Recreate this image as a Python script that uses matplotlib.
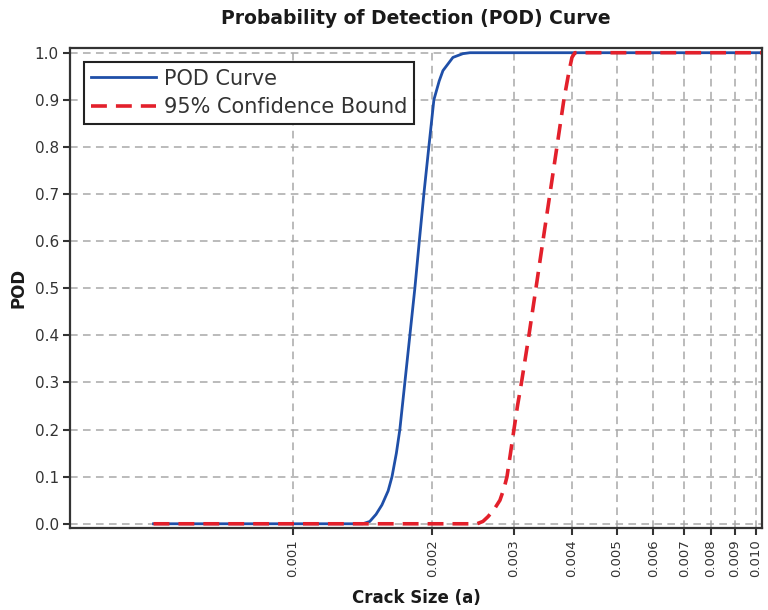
import matplotlib
matplotlib.use("Agg")
import matplotlib.pyplot as plt
from matplotlib.ticker import FixedLocator, NullLocator

# POD curve (crack size, probability of detection)
pod_a = [0.0005, 0.001416, 0.001466, 0.001512, 0.001557, 0.001606, 0.001637,
         0.001673, 0.001702, 0.001745, 0.001789, 0.001834, 0.001875, 0.001918,
         0.001966, 0.002016, 0.002070, 0.002109, 0.002216, 0.002329, 0.002412, 0.0105]
pod_p = [0.0, 0.0, 0.005, 0.02, 0.04, 0.07, 0.10,
         0.15, 0.20, 0.30, 0.40, 0.50, 0.60, 0.70,
         0.80, 0.90, 0.94, 0.962, 0.99, 0.998, 1.0, 1.0]

# 95% confidence bound
cb_a = [0.0005, 0.002497, 0.002573, 0.002638, 0.002718, 0.002800, 0.002857,
        0.002900, 0.002951, 0.003002, 0.003055, 0.003117, 0.003234, 0.003349,
        0.003467, 0.003590, 0.003717, 0.003848, 0.003947, 0.004006, 0.004066, 0.0105]
cb_p = [0.0, 0.0, 0.005, 0.015, 0.03, 0.05, 0.075,
        0.10, 0.15, 0.20, 0.25, 0.30, 0.40, 0.50,
        0.60, 0.70, 0.80, 0.90, 0.96, 0.99, 1.0, 1.0]

x_ticks = [0.001, 0.002, 0.003, 0.004, 0.005, 0.006, 0.007, 0.008, 0.009, 0.010]
y_ticks = [0.0, 0.1, 0.2, 0.3, 0.4, 0.5, 0.6, 0.7, 0.8, 0.9, 1.0]

txt = '#333333'

fig = plt.figure(figsize=(7.68, 6.10), dpi=100)
ax = fig.add_axes([0.0911, 0.1344, 0.9009, 0.7869])

ax.plot(pod_a, pod_p, color='#1f4fa8', lw=2.0, label='POD Curve')
ax.plot(cb_a, cb_p, color='#e3202b', lw=2.6, ls=(0, (4.4, 2.5)),
        label='95% Confidence Bound')

ax.set_xscale('log')
ax.set_xlim(0.00033, 0.0103)
ax.set_ylim(-0.009, 1.01)
ax.xaxis.set_major_locator(FixedLocator(x_ticks))
ax.xaxis.set_minor_locator(NullLocator())
ax.set_xticklabels([f'{t:.3f}' for t in x_ticks], rotation=90, fontsize=9.5, color=txt)
ax.set_yticks(y_ticks)
ax.set_yticklabels([f'{t:.1f}' for t in y_ticks], fontsize=11, color=txt)
ax.tick_params(direction='out', length=5, width=1.5, color='#333333', pad=3)

ax.grid(True, color='#a8a8a8', ls=(0, (5, 3.5)), lw=1.1)
for s in ax.spines.values():
    s.set_color('#333333')
    s.set_linewidth(1.6)

ax.set_title('Probability of Detection (POD) Curve', fontsize=13.5,
             fontweight='bold', color='#1a1a1a', pad=17)
ax.set_xlabel('Crack Size (a)', fontsize=12, fontweight='bold', color='#1a1a1a', labelpad=9)
ax.set_ylabel('POD', fontsize=12, fontweight='bold', color='#1a1a1a', labelpad=5)

leg = ax.legend(loc='upper left', fontsize=15.0, handlelength=3.15, handletextpad=0.35,
                fancybox=False, framealpha=1, edgecolor='#222222', borderpad=0.32,
                labelspacing=0.42, borderaxespad=0, bbox_to_anchor=(0.0202, 0.971))
leg.get_frame().set_linewidth(1.5)
for t in leg.get_texts():
    t.set_color(txt)

fig.savefig('out.png', dpi=100)
